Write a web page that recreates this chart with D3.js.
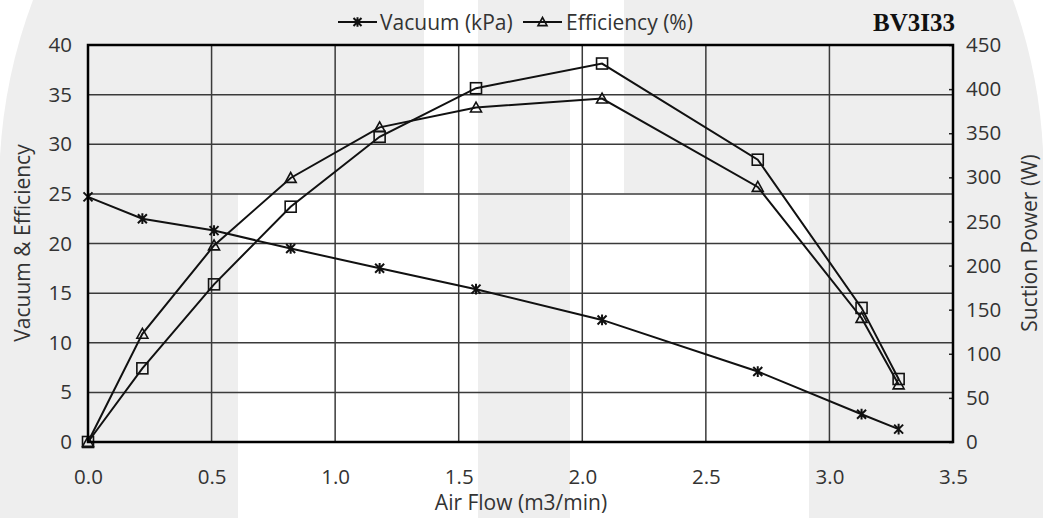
<!DOCTYPE html>
<html><head><meta charset="utf-8">
<script src="https://cdn.jsdelivr.net/npm/d3@7"></script>
<style>body{margin:0;background:#fff;}svg{display:block;}</style>
</head><body>
<svg id="chart" width="1043" height="518"></svg>
<script>
const airFlow   = [0, 0.22, 0.51, 0.82, 1.18, 1.57, 2.08, 2.71, 3.13, 3.28];
const vacuum    = [24.7, 22.5, 21.3, 19.5, 17.5, 15.4, 12.3, 7.1, 2.8, 1.3];
const efficiency= [0, 10.9, 19.8, 26.6, 31.7, 33.7, 34.6, 25.7, 12.5, 5.8];
const suction   = [0, 83.5, 178.7, 266.7, 346, 401, 429, 320, 152, 71.4];
const xTicks    = [0, 0.5, 1.0, 1.5, 2.0, 2.5, 3.0, 3.5];
const yLeftTicks= [0, 5, 10, 15, 20, 25, 30, 35, 40];
const yRightTicks=[0, 50, 100, 150, 200, 250, 300, 350, 400, 450];
const legendLabels = ["Vacuum (kPa)", "Efficiency (%)"];
const titleText = "BV3I33";

const svg = d3.select("#chart");
const W = 1043, H = 518;
const m = {left: 88, right: 953, top: 45, bottom: 442};
const FONT = "'Open Sans', sans-serif";
const TXT = "#333";

// background watermark
svg.append("rect").attr("width", W).attr("height", H).attr("fill", "#fff");
const bg = svg.append("g");
bg.append("path")
  .attr("d", `M33,0 L1013,0 A523,523 0 0 1 1043,150 L1043,${H} L0,${H} L0,157 A523,523 0 0 1 33,0 Z`)
  .attr("fill", "#eeeeee");
bg.append("rect").attr("x", 424).attr("y", 0).attr("width", 54).attr("height", H).attr("fill", "#fff");
bg.append("rect").attr("x", 238).attr("y", 193).attr("width", 240).attr("height", H).attr("fill", "#fff");
bg.append("rect").attr("x", 570).attr("y", 0).attr("width", 54).attr("height", H).attr("fill", "#fff");
bg.append("rect").attr("x", 570).attr("y", 193).attr("width", 239).attr("height", H).attr("fill", "#fff");

const x = d3.scaleLinear().domain([0, 3.5]).range([m.left, m.right]);
const yL = d3.scaleLinear().domain([0, 40]).range([m.bottom, m.top]);
const yR = d3.scaleLinear().domain([0, 450]).range([m.bottom, m.top]);

// gridlines
const grid = svg.append("g").attr("stroke", "#3a3a3a").attr("stroke-width", 1.5);
xTicks.forEach(t => grid.append("line").attr("x1", x(t)).attr("x2", x(t)).attr("y1", m.top).attr("y2", m.bottom));
yLeftTicks.forEach(t => grid.append("line").attr("x1", m.left).attr("x2", m.right).attr("y1", yL(t)).attr("y2", yL(t)));

// axes labels via d3 axes
const axL = svg.append("g").attr("transform", `translate(${m.left},0)`)
  .call(d3.axisLeft(yL).tickValues(yLeftTicks).tickSize(0).tickPadding(16).tickFormat(d3.format("d")));
const axB = svg.append("g").attr("transform", `translate(0,${m.bottom})`)
  .call(d3.axisBottom(x).tickValues(xTicks).tickSize(0).tickPadding(27).tickFormat(d3.format(".1f")));
const axR = svg.append("g").attr("transform", `translate(${m.right},0)`)
  .call(d3.axisRight(yR).tickValues(yRightTicks).tickSize(-4).tickPadding(13).tickFormat(d3.format("d")));
[axL, axB, axR].forEach(a => {
  a.select(".domain").remove();
  a.selectAll("text").attr("font-family", FONT).attr("font-size", 20.5).attr("fill", TXT);
});
axR.selectAll("line").attr("stroke", "#222").attr("stroke-width", 1.5);

// series lines
const line = (ys, sc) => d3.line().x((d, i) => x(airFlow[i])).y(d => sc(d))(ys);
svg.append("path").attr("d", line(suction, yR)).attr("fill", "none").attr("stroke", "#111").attr("stroke-width", 2);
svg.append("path").attr("d", line(efficiency, yL)).attr("fill", "none").attr("stroke", "#111").attr("stroke-width", 2);
svg.append("path").attr("d", line(vacuum, yL)).attr("fill", "none").attr("stroke", "#111").attr("stroke-width", 2);

// markers
function star(g, cx, cy, s) {
  const p = `M${cx - s},${cy - s}L${cx + s},${cy + s}M${cx - s},${cy + s}L${cx + s},${cy - s}M${cx},${cy - s * 1.2}L${cx},${cy + s * 1.2}`;
  g.append("path").attr("d", p).attr("stroke", "#111").attr("stroke-width", 2).attr("fill", "none");
}
function tri(g, cx, cy, s) {
  const p = `M${cx},${cy - s}L${cx + s},${cy + s * 0.8}L${cx - s},${cy + s * 0.8}Z`;
  g.append("path").attr("d", p).attr("stroke", "#111").attr("stroke-width", 1.6).attr("fill", "none");
}
function sq(g, cx, cy, s) {
  g.append("rect").attr("x", cx - s).attr("y", cy - s).attr("width", 2 * s).attr("height", 2 * s)
    .attr("stroke", "#111").attr("stroke-width", 1.6).attr("fill", "none");
}
const mk = svg.append("g");
suction.forEach((d, i) => sq(mk, x(airFlow[i]), yR(d), 5.5));
efficiency.forEach((d, i) => tri(mk, x(airFlow[i]), yL(d), 5.5));
vacuum.forEach((d, i) => star(mk, x(airFlow[i]), yL(d), 4.5));

// border
svg.append("rect").attr("x", m.left).attr("y", m.top).attr("width", m.right - m.left).attr("height", m.bottom - m.top)
  .attr("fill", "none").attr("stroke", "#000").attr("stroke-width", 2.5);

// axis titles
svg.append("text").attr("x", 521).attr("y", 510).attr("text-anchor", "middle")
  .attr("font-family", FONT).attr("font-size", 21).attr("fill", TXT).text("Air Flow (m3/min)");
svg.append("text").attr("transform", "translate(30,243) rotate(-90)").attr("text-anchor", "middle")
  .attr("font-family", FONT).attr("font-size", 21).attr("fill", TXT).text("Vacuum & Efficiency");
svg.append("text").attr("transform", "translate(1037,243) rotate(-90)").attr("text-anchor", "middle")
  .attr("font-family", FONT).attr("font-size", 21).attr("fill", TXT).text("Suction Power (W)");

// legend
const lg = svg.append("g");
const lgY = 22;
[[338, 380], [523, 566]].forEach(([lx, tx], k) => {
  lg.append("line").attr("x1", lx).attr("x2", lx + 39).attr("y1", lgY).attr("y2", lgY).attr("stroke", "#111").attr("stroke-width", 2);
  if (k === 0) star(lg, lx + 19.5, lgY, 4); else tri(lg, lx + 19.5, lgY, 4.5);
  lg.append("text").attr("x", tx).attr("y", 30).attr("font-family", FONT).attr("font-size", 21).attr("fill", TXT).text(legendLabels[k]);
});

// title
svg.append("text").attr("x", 955).attr("y", 31).attr("text-anchor", "end")
  .attr("font-family", "'Liberation Serif', serif").attr("font-weight", "bold").attr("font-size", 25).attr("fill", "#111").text(titleText);
</script>
</body></html>
